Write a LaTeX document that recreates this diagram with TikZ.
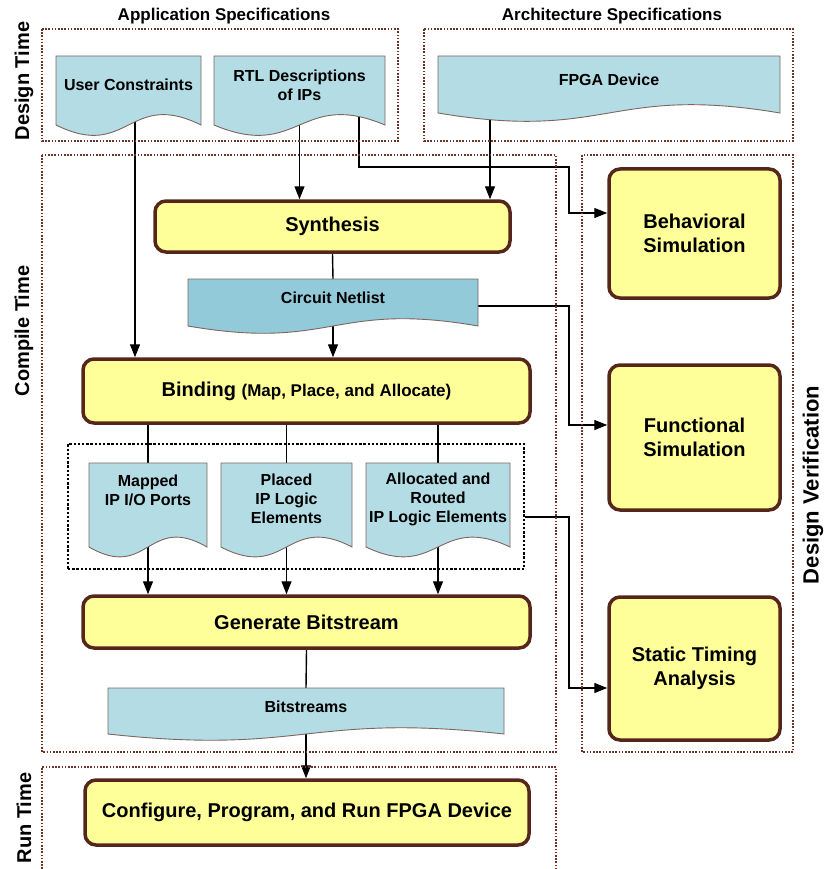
\documentclass[tikz,border=0pt]{standalone}
\usepackage{fontspec}
\setmainfont{Liberation Sans}
\usetikzlibrary{arrows.meta}
\pgfdeclarelayer{links}
\pgfsetlayers{links,main}

\definecolor{docblue}{HTML}{B3DCE5}
\definecolor{netblue}{HTML}{92CAD9}
\definecolor{docedge}{HTML}{7E655E}
\definecolor{stepfill}{HTML}{FFFF99}
\definecolor{stepedge}{HTML}{55261B}
\definecolor{frameedge}{HTML}{6B3526}

\tikzset{
  stepbox/.style={draw=stepedge, fill=stepfill, line width=3.5pt, rounded corners=11pt,
    align=center, font=\fontsize{20}{24}\selectfont\bfseries, inner sep=0pt},
  docpaper/.style={draw=docedge, line width=0.9pt},
  doclabel/.style={align=center, font=\fontsize{16}{19}\selectfont\bfseries, inner sep=0pt},
  frame/.style={draw=frameedge, line width=1.1pt, dash pattern=on 1.6pt off 1.6pt},
  group/.style={draw=black, line width=1.1pt, dash pattern=on 2.4pt off 1.8pt},
  heading/.style={font=\fontsize{17}{20}\selectfont\bfseries, inner sep=0pt},
  phase/.style={font=\fontsize{20}{24}\selectfont\bfseries, inner sep=0pt, rotate=90},
  link/.style={draw=black, line width=1.4pt},
  arr/.style={link, -{Triangle[length=13pt,width=10pt]}},
}

% document sheet with a wavy lower edge:
% #1 name, #2 left x, #3 top y, #4 right x, #5 y where the sides end, #6 wave amplitude, #7 fill
\newcommand\docsheet[7]{%
  \path[docpaper, fill=#7] (#2,#3) -- (#4,#3) -- (#4,#5)
     .. controls ({(#2+#4)/2},{#5-3.6*#6}) and ({(#2+#4)/2},{#5+3.6*#6}) .. (#2,#5) -- cycle;
  \node[inner sep=0pt, outer sep=0pt, minimum width={(#4-#2)*1pt}, minimum height={(#5-#3)*1pt}]
     (#1) at ({(#2+#4)/2},{(#3+#5)/2}) {};
}

\begin{document}
\begin{tikzpicture}[x=1pt, y=-1pt]
\useasboundingbox (0,0) rectangle (823,869);

% phase frames
\draw[frame] (42,29) rectangle (398,141);
\draw[frame] (424,29) rectangle (793,141);
\draw[frame] (42,155) rectangle (556,752);
\draw[frame] (582,155) rectangle (793,752);
\draw[frame] (42,869) -- (42,767) -- (556,767) -- (556,869);

% headings and phase labels
\node[heading] (apphead) at (224,16) {Application Specifications};
\node[heading] (archhead) at (612,16) {Architecture Specifications};
\node[phase] (designtime) at (24,81) {Design Time};
\node[phase] (compiletime) at (24,331) {Compile Time};
\node[phase] (runtime) at (24,818) {Run Time};
\node[phase, font=\fontsize{22}{26}\selectfont\bfseries] (verify) at (813,485) {Design Verification};

% specification documents
\docsheet{uc}{56}{56}{201}{125}{10}{docblue}
\node[doclabel] (uctext) at (128.5,85) {User Constraints};
\docsheet{rtl}{214}{56}{385}{125}{10}{docblue}
\node[doclabel] (rtltext) at (299.5,85) {RTL Descriptions\\of IPs};
\docsheet{fpga}{438}{56}{780}{113}{8}{docblue}
\node[doclabel] (fpgatext) at (609,80) {FPGA Device};

% compile flow
\node[stepbox, minimum width=355pt, minimum height=51pt] (syn) at (332.5,226.5) {Synthesis};
\docsheet{net}{188}{279}{478}{326}{7}{netblue}
\node[doclabel] (nettext) at (333,298) {Circuit Netlist};
\node[stepbox, minimum width=447pt, minimum height=64pt] (bind) at (306.5,391)
  {Binding {\fontsize{17}{20}\selectfont(Map, Place, and Allocate)}};

\node[group, inner sep=0pt, minimum width=456pt, minimum height=125pt] (outs) at (296,506.5) {};
\docsheet{map}{89}{463}{207}{547}{9.5}{docblue}
\node[doclabel] (maptext) at (148,490) {Mapped\\IP I/O Ports};
\docsheet{place}{221}{463}{352}{547}{9.5}{docblue}
\node[doclabel] (placetext) at (286.5,499) {Placed\\IP Logic\\Elements};
\docsheet{alloc}{366}{463}{510}{547}{9.5}{docblue}
\node[doclabel] (alloctext) at (438,499) {Allocated and\\Routed\\IP Logic Elements};

\node[stepbox, minimum width=447pt, minimum height=52pt] (gen) at (306.5,622) {Generate Bitstream};
\docsheet{bits}{108}{688}{504}{734}{6}{docblue}
\node[doclabel] (bitstext) at (306,707) {Bitstreams};

% run time
\node[stepbox, minimum width=444pt, minimum height=65pt] (conf) at (307,812.5)
  {Configure, Program, and Run FPGA Device};

% verification steps
\node[stepbox, minimum width=171pt, minimum height=129pt] (beh) at (694.5,233.5) {Behavioral\\Simulation};
\node[stepbox, minimum width=171pt, minimum height=145pt] (fun) at (694.5,437.5) {Functional\\Simulation};
\node[stepbox, minimum width=171pt, minimum height=143pt] (sta) at (694.5,668.5) {Static Timing\\Analysis};

% connector ports and bends
\coordinate (ucout) at ([xshift=6.5pt]uc.center);
\coordinate (rtlout) at ([xshift=59.5pt]rtl.center);
\coordinate (fpgaout) at ([xshift=-119pt]fpga.center);
\coordinate (netout) at ([yshift=-3.5pt]net.east);
\coordinate (outsout) at ([yshift=-10.5pt]outs.east);
\coordinate (vx) at (569,0);
\coordinate (rtlbend) at (569,167);
\coordinate (behin) at ([yshift=20.5pt]beh.west);
\coordinate (funin) at ([yshift=12.5pt]fun.west);
\coordinate (stain) at ([yshift=-19.5pt]sta.west);

\begin{pgfonlayer}{links}
  \draw[arr] (ucout) -- (ucout |- bind.north);
  \draw[arr] (rtl.center) -- (rtl.center |- syn.north);
  \draw[arr] (fpgaout) -- (fpgaout |- syn.north);
  \draw[link] (syn.south) -- (net.north);
  \draw[arr] (net.center) -- (net.center |- bind.north);
  \draw[link] (bind.south -| map.north) -- (map.north);
  \draw[link] (bind.south -| place.north) -- (place.north);
  \draw[link] (bind.south -| alloc.north) -- (alloc.north);
  \draw[arr] (map.center) -- (map.center |- gen.north);
  \draw[arr] (place.center) -- (place.center |- gen.north);
  \draw[arr] (alloc.center) -- (alloc.center |- gen.north);
  \draw[link] (gen.south) -- (bits.north);
  \draw[arr] (bits.center) -- (bits.center |- conf.north);
  \draw[arr] (rtlout) |- (rtlbend) |- (behin);
  \draw[arr] (netout) -- (netout -| vx) |- (funin);
  \draw[arr] (outsout) -- (outsout -| vx) |- (stain);
\end{pgfonlayer}
\end{tikzpicture}
\end{document}
